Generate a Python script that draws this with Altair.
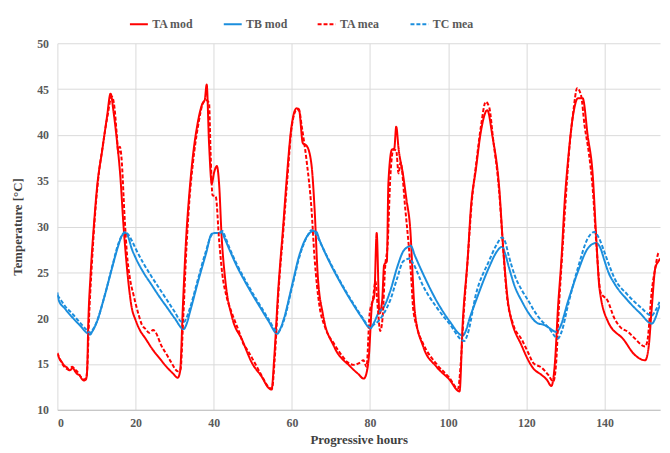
import altair as alt
import pandas as pd

SERIES = ["TA mod", "TB mod", "TA mea", "TC mea"]
COLORS = ["#FF0000", "#1B8EDD", "#FF0000", "#1B8EDD"]

ta_mod_h = [0, 0.5, 1, 1.8, 2.5, 3, 3.5, 3.9, 4.5, 5.1, 5.6, 6.2, 6.8, 7.3, 7.6, 7.9, 8.5, 9.35, 10.2, 11.5,
            12.7, 13.6, 14.4, 15.2, 16.1, 16.9, 17.8, 19, 20, 21.1, 22.5, 24.5, 26, 27.9, 29.5, 30.8, 31.4, 32.1,
            32.9, 33.8, 34.6, 35.9, 37.2, 37.7, 38.2, 38.8, 39.5, 40.1, 40.8, 41.4, 42, 43, 44.7, 47.3, 49.8,
            52.3, 54, 54.8, 55.5, 56.5, 57.8, 58.6, 59.9, 61.2, 61.8, 62.8, 63.8, 65, 65.8, 66.6, 67.9, 70.8,
            75, 77, 78.4, 79.2, 79.7, 80.5, 81.1, 81.7, 82.4, 83.1, 83.6, 84.3, 84.7, 85.6, 86.2, 86.7, 87.3,
            88.5, 89.3, 90.2, 91.5, 93.6, 97, 100.3, 102.9, 103.7, 105, 105.8, 107.1, 108.3, 110, 111.3, 113,
            114.2, 115.5, 118.9, 121.8, 123.9, 125.2, 126.4, 127.3, 128.1, 129, 129.8, 130.7, 131.9, 133.2,
            134.4, 135.7, 137, 137.8, 138.7, 140.8, 145, 147.5, 150.4, 151.3, 152.1, 153, 153.8, 154.2]
ta_mod_t = [16.1, 15.6, 15.3, 14.8, 14.6, 14.3, 14.4, 14.6, 14.2, 13.9, 13.8, 13.4, 13.2, 13.3, 14.2, 19.4,
            24.8, 30.2, 34.5, 38.4, 42, 44.5, 42.4, 39.5, 35.5, 30.2, 25.5, 21.2, 19.8, 18.7, 17.8, 16.5, 15.7,
            14.7, 14.0, 13.5, 14.2, 21.2, 28.4, 33.8, 37.4, 41.3, 43.5, 43.8, 45.5, 39.1, 34.7, 35.9, 36.6,
            34.5, 29.1, 24, 20.1, 17.6, 15.1, 13.6, 12.4, 12.2, 15.8, 23, 30.2, 34.8, 40.9, 42.9, 42.8, 39.1,
            38.8, 36.8, 32, 24.8, 20.5, 16.9, 14.7, 13.9, 13.4, 14.2, 15.8, 21.5, 22.5, 29.3, 20.5, 21.9,
            25.8, 26.2, 34.8, 38.4, 38.5, 40.9, 38.5, 35.5, 33, 30.2, 20.5, 16.9, 14.7, 13.3, 12.0, 19.4,
            26.6, 32, 36.3, 40.2, 42.7, 39.9, 34.5, 26.9, 21.2, 16.9, 14.5, 13.8, 13.3, 12.6, 15.1, 21.2,
            26.6, 32.7, 37.4, 42, 44, 44, 39.9, 35.5, 29.4, 23.3, 19.7, 17.6, 16.1, 15.4, 16.9, 21.2, 25.5,
            26.2, 26.5]

ta_mea_h = [0, 1, 2, 3, 3.8, 4.5, 5.2, 6, 6.8, 7.4, 7.7, 8.1, 8.7, 9.5, 10.4, 11.6, 12.8, 13.9, 14.6, 15.2,
            15.6, 16.0, 16.4, 17.2, 17.8, 18.5, 19.5, 20.7, 21.6, 22.6, 23.5, 24.5, 25.2, 26.6, 28, 29.1, 30.8,
            31.5, 32.2, 33, 33.8, 34.7, 36, 37.2, 38, 38.8, 39.2, 39.7, 40.5, 41.4, 42.2, 43.2, 44.7, 46.5,
            47.7, 48.5, 50, 52.3, 54, 54.9, 55.6, 56.6, 57.9, 58.8, 60, 61.3, 61.9, 62.5, 63.7, 65, 65.8, 67,
            68.5, 70.8, 73, 74.2, 75.9, 77.2, 78.3, 79.1, 79.9, 80.7, 81.4, 82, 82.6, 83.2, 83.9, 84.5, 85.2,
            86, 86.7, 87.3, 87.8, 89, 90.6, 91, 92, 93.6, 97, 100.3, 102.5, 103.2, 103.9, 105, 106, 107.2,
            108.4, 109.6, 110.5, 111.5, 113, 114, 115, 116.5, 118.9, 120.5, 121.8, 123.9, 125.6, 126.9,
            127.6, 128.3, 129.1, 130, 130.9, 132, 133, 134, 134.9, 136, 137, 138, 139, 140.8, 142.5, 144.1,
            146, 147.5, 150.4, 151, 152.1, 153, 153.8, 154.2]
ta_mea_t = [16.2, 15.2, 14.6, 14.4, 14.7, 14.4, 14.1, 13.6, 13.3, 13.5, 15, 20, 25, 30.5, 35, 38.8, 42, 44.2,
            43, 40, 38, 38.7, 37.5, 31, 27, 24.5, 22.5, 20.5, 19.3, 18.8, 18.4, 18.7, 18.4, 17, 16, 15.2,
            14.2, 14.4, 20, 27.5, 33, 37, 41, 43.4, 43.8, 43.5, 38, 33.4, 33.3, 28.4, 24.8, 22.5, 20.5,
            18.5, 17.1, 16.6, 15.5, 13.7, 12.5, 12.3, 15.5, 23, 30, 35, 41, 42.8, 42.6, 41, 37.4, 32, 26.6,
            21.5, 19, 17.2, 15.8, 15.2, 14.9, 15.1, 15.4, 14.7, 20.5, 22, 24, 21, 18.6, 20, 25.8, 28, 35.5,
            38.4, 38.3, 35.8, 37, 32, 24, 21.2, 19, 17.2, 15, 13.5, 12.3, 15, 20, 26.5, 32.5, 37, 41, 43.6,
            43, 39.5, 34, 28, 22.5, 19.5, 17.6, 16.2, 15.1, 14.6, 13.8, 13.1, 15, 21, 26.5, 32.5, 38, 42.5,
            45.1, 44.3, 41, 38, 34, 27.5, 22.8, 21.9, 20, 19, 18.5, 17.9, 16.9, 17.6, 23, 25.5, 27.1, 27.2]

tb_mod_h = [0, 0.3, 2, 4, 6, 7.5, 8.3, 9, 10, 12, 14, 15.5, 16.5, 17.4, 18, 19, 20, 22, 24, 26, 28, 30, 32.3,
            33, 34, 36, 38, 39.5, 40.5, 41.2, 42, 42.8, 44, 46, 48, 50, 52, 54, 56.3, 57, 58, 60, 62, 64,
            65.5, 66.3, 67, 68, 70, 72, 74, 76, 78, 80.1, 81, 82.2, 83.5, 85.2, 86.9, 88.5, 89.8, 90.4, 91.5,
            93.6, 97, 100.3, 103.7, 104.5, 105.5, 107.1, 110.4, 112.5, 113.8, 114.6, 115.5, 117, 118.9, 120.5,
            123.1, 124.3, 125.6, 127.7, 128.6, 130.7, 133.2, 135.7, 137.8, 139, 139.9, 141, 142.5, 145.8,
            149.2, 152.1, 153, 153.8, 154.2]
tb_mod_t = [22.8, 22.0, 21.0, 20, 19.1, 18.4, 18.2, 18.6, 19.5, 22.3, 25.5, 27.8, 29, 29.3, 29, 27.6, 26.6,
            25, 23.7, 22.4, 21.2, 20, 18.8, 19.3, 20.8, 24, 27, 29.2, 29.3, 29.3, 29.4, 28.7, 27.5, 25.6, 24,
            22.5, 21.1, 19.7, 18.3, 18.8, 20, 23.5, 27, 29, 29.5, 29.4, 28.6, 27.6, 25.8, 24.2, 22.7, 21.3,
            20, 18.9, 19.5, 20.6, 21.2, 23, 25.5, 27.3, 27.8, 27.9, 26.8, 24.8, 21.9, 19.7, 18.1, 18.6, 20,
            21.9, 25.5, 27.3, 27.8, 27, 25.6, 23.5, 21.8, 20.6, 19.4, 19.3, 19, 18.5, 19, 21.9, 25.1, 27.6,
            28.2, 27.6, 26.4, 25, 23.8, 22, 20.5, 19.4, 20, 21, 21.4]

tc_mea_h = [0, 1, 2, 4, 6, 7.5, 8.3, 9, 10, 12, 14, 15.5, 16.6, 17.2, 18, 19, 20, 22, 24, 26, 28, 30, 31.8,
            32.5, 33, 34, 36, 38, 39.5, 40.5, 41.5, 42.2, 43, 44, 46, 48, 50, 52, 54, 56.5, 57.3, 58, 60, 62,
            64, 65, 66, 67, 68, 70, 72, 74, 76, 78, 80, 81, 82.2, 83.5, 85.2, 86.9, 88.5, 90.2, 91, 93.6, 97,
            100.3, 104.1, 105, 107.1, 110.4, 112.5, 113.8, 114.6, 115.5, 117, 118.9, 120.5, 122, 123.9,
            125.6, 128.1, 129, 130.7, 133.2, 135.7, 137.4, 138.5, 139.9, 141, 142.5, 145.8, 149.2, 152.1,
            153, 154.2]
tc_mea_t = [22.5, 21.9, 21.3, 20.4, 19.4, 18.7, 18.4, 18.7, 19.5, 22.3, 25.6, 28, 29.1, 29.4, 29.2, 28.5,
            27.6, 26, 24.6, 23.3, 22, 20.7, 19.6, 19.6, 20, 21.2, 24.3, 27.3, 29.1, 29.3, 29.3, 29.5, 28.8,
            27.7, 25.8, 24.2, 22.7, 21.3, 19.9, 18.5, 19, 19.8, 23.3, 26.8, 29, 29.6, 29.3, 28.5, 27.6, 25.9,
            24.3, 22.8, 21.4, 20.1, 19, 19.3, 19.7, 20.5, 22, 24.3, 26.2, 26.5, 26, 23.5, 21.2, 19.4, 17.5,
            18.3, 22.6, 26.2, 28.1, 28.8, 28.3, 26.8, 24.7, 23, 21.9, 20.8, 19.7, 19, 17.8, 18.5, 21.5, 25.5,
            28.7, 29.4, 28.8, 27.3, 26, 24.4, 22.6, 21.2, 20.3, 20.8, 21.9]

frames = []
for name, hs, ts in [("TA mod", ta_mod_h, ta_mod_t), ("TB mod", tb_mod_h, tb_mod_t),
                     ("TA mea", ta_mea_h, ta_mea_t), ("TC mea", tc_mea_h, tc_mea_t)]:
    frames.append(pd.DataFrame({"h": hs, "T": ts, "series": name, "order": range(len(hs))}))
df = pd.concat(frames, ignore_index=True)

FONT = "Liberation Serif"
legend = alt.Legend(title=None, orient="none", direction="horizontal", legendX=72, legendY=-30,
                    symbolType="stroke", symbolSize=330, symbolStrokeWidth=2, labelFont=FONT,
                    labelFontSize=12, labelFontWeight="bold", labelColor="#595959", columnPadding=26,
                    labelOffset=3)

chart = alt.Chart(df).mark_line(clip=True, interpolate="monotone").encode(
    x=alt.X("h:Q", scale=alt.Scale(domain=[0, 154.2], nice=False, zero=False),
            axis=alt.Axis(values=[0, 20, 40, 60, 80, 100, 120, 140], title="Progressive hours",
                          format="d", labelFont=FONT, titleFont=FONT)),
    y=alt.Y("T:Q", scale=alt.Scale(domain=[10, 50], nice=False, zero=False),
            axis=alt.Axis(values=[10, 15, 20, 25, 30, 35, 40, 45, 50], title="Temperature [°C]",
                          labelFont=FONT, titleFont=FONT)),
    color=alt.Color("series:N", scale=alt.Scale(domain=SERIES, range=COLORS), legend=legend),
    strokeDash=alt.StrokeDash("series:N", scale=alt.Scale(domain=SERIES,
                              range=[[1, 0], [1, 0], [4, 2], [4, 2]]), legend=legend),
    strokeWidth=alt.StrokeWidth("series:N", scale=alt.Scale(domain=SERIES, range=[2, 2, 1.6, 1.6]),
                                legend=None),
    order="order:Q",
).properties(
    width=610, height=371, autosize="none",
    padding={"left": 50, "top": 33, "right": 2, "bottom": 37},
).configure_view(stroke=None).configure_axis(
    grid=True, gridColor="#D9D9D9", gridWidth=1, ticks=False, domain=False,
    labelFont=FONT, labelFontSize=12, labelFontWeight="bold", labelColor="#595959",
    titleFont=FONT, titleFontSize=13, titleFontWeight="bold", titleColor="#404040",
).configure_axisX(labelPadding=8, titlePadding=5, domain=True, domainColor="#BFBFBF"
).configure_axisY(labelPadding=9, titlePadding=12)

chart.save("out.html", embed_options={"renderer": "svg", "actions": False})
